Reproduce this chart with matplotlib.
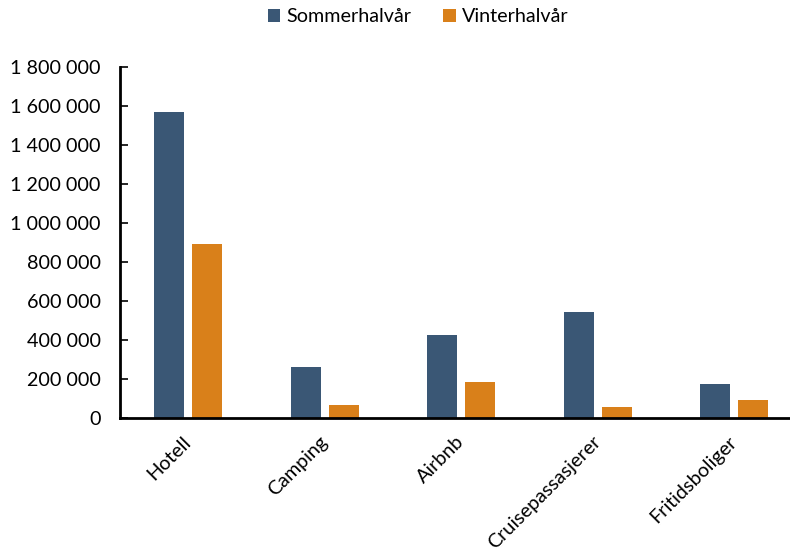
import matplotlib
matplotlib.use("Agg")
import matplotlib.pyplot as plt
import numpy as np
from matplotlib.ticker import FuncFormatter

categories = ["Hotell", "Camping", "Airbnb", "Cruisepassasjerer", "Fritidsboliger"]
sommer = [1570000, 262000, 426000, 545000, 175000]
vinter = [892000, 67000, 185000, 56000, 92000]
series_names = ["Sommerhalvår", "Vinterhalvår"]
colors = ["#3A5775", "#D9801A"]
yticks = [0, 200000, 400000, 600000, 800000, 1000000, 1200000, 1400000, 1600000, 1800000]

plt.rcParams['font.family'] = ['Lato', 'DejaVu Sans']

W, H = 790, 551
fig = plt.figure(figsize=(W/100, H/100), dpi=100)
left, right, bottom, top = 120, 802.5, 418, 67
ax = fig.add_axes([left/W, (H-bottom)/H, (right-left)/W, (bottom-top)/H])

x = np.arange(len(categories))
bw = 0.22
off = 0.139
ax.bar(x - off, sommer, bw, color=colors[0], label=series_names[0])
ax.bar(x + off, vinter, bw, color=colors[1], label=series_names[1])

ax.set_xlim(-0.5, len(categories) - 0.5)
ax.set_ylim(0, 1800000)
ax.set_yticks(yticks)
ax.yaxis.set_major_formatter(FuncFormatter(lambda v, p: f"{int(v):,}".replace(",", " ")))
ax.set_xticks(x)
ax.set_xticklabels(categories, rotation=45, ha="right", rotation_mode="anchor")

for s in ["top", "right"]:
    ax.spines[s].set_visible(False)
for s in ["left", "bottom"]:
    ax.spines[s].set_linewidth(2)
    ax.spines[s].set_color("black")

ax.tick_params(axis="y", direction="in", length=6, width=1.2, pad=14, labelsize=14.2)
ax.tick_params(axis="x", length=0, pad=11, labelsize=14.2)
for lbl in ax.get_xticklabels():
    lbl.set_x(lbl.get_position()[0])

from matplotlib.transforms import ScaledTranslation
for lbl in ax.get_xticklabels():
    lbl.set_transform(lbl.get_transform() + ScaledTranslation(-6/100, 0, fig.dpi_scale_trans))

leg = fig.legend(loc="center", bbox_to_anchor=(418/W, 1 - 17/H), ncol=2, frameon=False,
                 fontsize=14.2, handlelength=0.65, handleheight=0.65, handletextpad=0.3,
                 columnspacing=1.6)

fig.savefig("out.png", dpi=100)
